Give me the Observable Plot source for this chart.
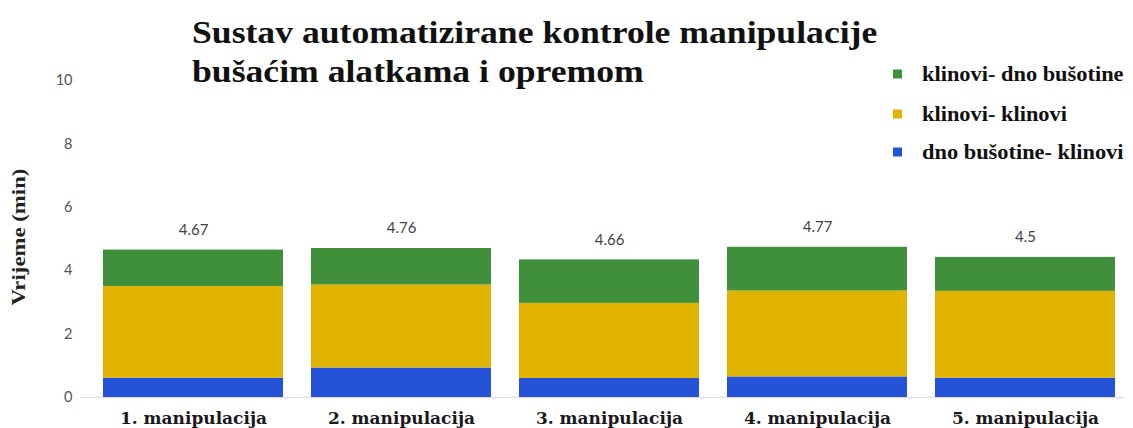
<!DOCTYPE html>
<html>
<head>
<meta charset="utf-8">
<script src="https://cdn.jsdelivr.net/npm/d3@7"></script>
<script src="https://cdn.jsdelivr.net/npm/@observablehq/plot@0.6"></script>
<style>
  html, body { margin: 0; padding: 0; background: #fff; }
  #chart { width: 1133px; height: 428px; }
</style>
</head>
<body>
<div id="chart"></div>
<script>
const categories = ["1. manipulacija", "2. manipulacija", "3. manipulacija", "4. manipulacija", "5. manipulacija"];
const series = ["dno bušotine- klinovi", "klinovi- klinovi", "klinovi- dno bušotine"];
const blueValues = [0.61, 0.93, 0.60, 0.65, 0.61];
const yellowValues = [2.89, 2.62, 2.37, 2.71, 2.74];
const greenValues = [1.15, 1.15, 1.37, 1.38, 1.07];
const totalLabels = ["4.67", "4.76", "4.66", "4.77", "4.5"];
const colors = ["#2453d8", "#e0b300", "#3f8f3b"];
const yTicks = [0, 2, 4, 6, 8, 10];
const titleLines = ["Sustav automatizirane kontrole manipulacije", "bušaćim alatkama i opremom"];
const yLabel = "Vrijeme (min)";

const seriesValues = [blueValues, yellowValues, greenValues];
const rows = categories.flatMap((c, i) => series.map((s, j) => ({category: c, series: s, value: seriesValues[j][i]})));
const totals = categories.map((c, i) => ({
  category: c,
  sum: blueValues[i] + yellowValues[i] + greenValues[i],
  label: totalLabels[i]
}));

const plot = Plot.plot({
  width: 1133,
  height: 428,
  marginTop: 80,
  marginBottom: 31,
  marginLeft: 92,
  marginRight: 8,
  style: {background: "#fff"},
  x: {domain: categories, paddingInner: 0.135, paddingOuter: 0.05, axis: null},
  y: {domain: [0, 10], axis: null},
  color: {domain: series, range: colors},
  marks: [
    Plot.ruleY([0], {stroke: "#dcdcdc", insetLeft: -12}),
    Plot.barY(rows, {x: "category", y: "value", fill: "series", order: series}),
    Plot.text(totals, {x: "category", y: "sum", text: "label", dy: -20, fontSize: 15, fill: "#444", fontFamily: "Lato"}),
    Plot.axisY({ticks: yTicks, tickSize: 0, tickPadding: 20, fontSize: 14.5, fill: "#555", fontFamily: "Lato", label: null}),
    Plot.axisX({tickSize: 0, tickPadding: 14, fontSize: 17, fontWeight: "bold", fontFamily: "DejaVu Serif", fill: "#1a1a1a", label: null})
  ]
});

const svg = d3.select(plot);

// Title
const tg = svg.append("g")
  .attr("font-family", "Liberation Serif").attr("font-weight", "bold").attr("font-size", 31)
  .attr("fill", "#111").attr("text-anchor", "start");
const titleBaselines = [43, 82];
titleLines.forEach((t, i) => {
  tg.append("text").attr("text-anchor", "start")
    .attr("transform", `translate(192,${titleBaselines[i]}) scale(1.15,1)`).text(t);
});

// Y label
svg.append("text")
  .attr("transform", "translate(25,237) rotate(-90) scale(1.2,1)")
  .attr("text-anchor", "middle")
  .attr("font-family", "Liberation Serif").attr("font-weight", "bold").attr("font-size", 19)
  .attr("fill", "#222")
  .text(yLabel);

// Legend (top to bottom: reversed stacking order)
const lg = svg.append("g")
  .attr("font-family", "Liberation Serif").attr("font-weight", "bold").attr("font-size", 20)
  .attr("fill", "#111").attr("text-anchor", "start");
const legendRows = series.map((s, i) => ({s, c: colors[i]})).reverse();
const legendY = [74, 114, 152];
legendRows.forEach((d, i) => {
  lg.append("rect").attr("x", 893).attr("y", legendY[i] - 4.5).attr("width", 9).attr("height", 9).attr("fill", d.c);
  lg.append("text").attr("text-anchor", "start")
    .attr("transform", `translate(922,${legendY[i] + 7}) scale(1.12,1)`).text(d.s);
});

document.getElementById("chart").appendChild(plot);
</script>
</body>
</html>
